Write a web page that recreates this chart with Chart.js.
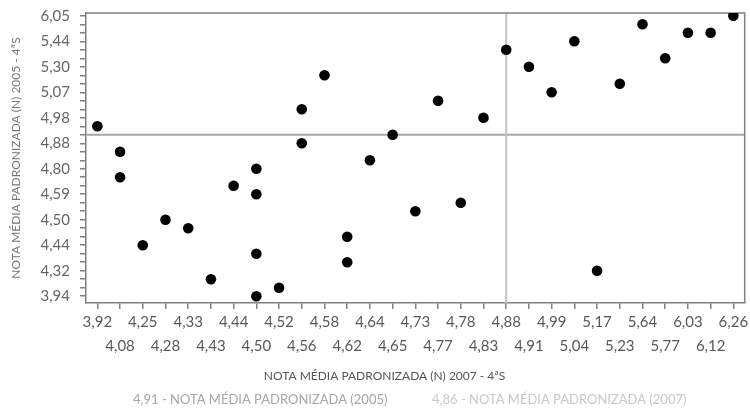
<!DOCTYPE html>
<html><head><meta charset="utf-8">
<script src="https://cdn.jsdelivr.net/npm/chart.js@4/dist/chart.umd.min.js"></script>
<style>html,body{margin:0;padding:0;background:#fff;}#wrap{width:750px;height:409px;position:relative;}</style>
</head><body><div id="wrap"><canvas id="c"></canvas></div>
<script>
// ---- data ----
const xCategories = [3.92, 4.08, 4.25, 4.28, 4.33, 4.43, 4.44, 4.50, 4.52, 4.56, 4.58, 4.62, 4.64, 4.65, 4.73,
  4.77, 4.78, 4.83, 4.88, 4.91, 4.99, 5.04, 5.17, 5.23, 5.64, 5.77, 6.03, 6.12, 6.26];
const yCategories = [3.94, 4.05, 4.20, 4.32, 4.36, 4.40, 4.44, 4.46, 4.48, 4.50, 4.54, 4.57, 4.59, 4.66, 4.74,
  4.80, 4.83, 4.86, 4.88, 4.91, 4.95, 4.98, 5.01, 5.04, 5.07, 5.15, 5.22, 5.30, 5.34, 5.39, 5.44, 5.52, 5.62, 6.05];
const yLabelEvery = 3;
const nota2007 = [3.92, 4.08, 4.08, 4.25, 4.28, 4.33, 4.43, 4.44, 4.50, 4.50, 4.50, 4.50, 4.52, 4.56, 4.56, 4.58,
  4.62, 4.62, 4.64, 4.65, 4.73, 4.77, 4.78, 4.83, 4.88, 4.91, 4.99, 5.04, 5.17, 5.23, 5.64, 5.77, 6.03, 6.12, 6.26];
const nota2005 = [4.95, 4.86, 4.74, 4.44, 4.50, 4.48, 4.20, 4.66, 4.80, 4.59, 4.40, 3.94, 4.05, 4.88, 5.01, 5.22,
  4.46, 4.36, 4.83, 4.91, 4.54, 5.04, 4.57, 4.98, 5.39, 5.30, 5.07, 5.44, 4.32, 5.15, 5.62, 5.34, 5.52, 5.52, 6.05];
const media2005 = 4.91;
const media2007 = 4.86;
const xTitle = 'NOTA MÉDIA PADRONIZADA (N) 2007 - 4ªS';
const yTitle = 'NOTA MÉDIA PADRONIZADA (N) 2005 - 4ªS';
const legendNames = ['NOTA MÉDIA PADRONIZADA (2005)', 'NOTA MÉDIA PADRONIZADA (2007)'];

// ---- helpers ----
const fmt = v => v.toFixed(2).replace('.', ',');
const nearestIndex = (arr, v) => arr.reduce((b, a, i) => Math.abs(a - v) < Math.abs(arr[b] - v) ? i : b, 0);
const FONT = 'Lato, "Open Sans", sans-serif';
const AXIS = '#808080';

const refLines = {
  id: 'refLines',
  beforeDatasetsDraw(chart) {
    const {ctx, chartArea: a, scales: {x, y}} = chart;
    ctx.save();
    const yp = y.getPixelForValue(nearestIndex(yCategories, media2005));
    ctx.strokeStyle = '#a8a8a8'; ctx.lineWidth = 2;
    ctx.beginPath(); ctx.moveTo(a.left, yp); ctx.lineTo(a.right, yp); ctx.stroke();
    const xp = x.getPixelForValue(nearestIndex(xCategories, media2007));
    ctx.strokeStyle = '#c2c2ca'; ctx.lineWidth = 2;
    ctx.beginPath(); ctx.moveTo(xp, a.top); ctx.lineTo(xp, a.bottom); ctx.stroke();
    // top/right frame
    ctx.strokeStyle = AXIS; ctx.lineWidth = 1.5;
    ctx.beginPath(); ctx.moveTo(a.left, a.top); ctx.lineTo(a.right, a.top); ctx.lineTo(a.right, a.bottom); ctx.stroke();
    ctx.restore();
  }
};

const bottomTexts = {
  id: 'bottomTexts',
  afterDraw(chart) {
    const {ctx} = chart;
    ctx.save();
    ctx.textBaseline = 'middle';
    ctx.font = '12px ' + FONT;
    ctx.fillStyle = '#555';
    ctx.textAlign = 'center';
    ctx.fillText(xTitle, 384.5, 376);
    ctx.font = '13px ' + FONT;
    ctx.textAlign = 'left';
    ctx.fillStyle = '#a6a6a6';
    ctx.fillText(fmt(media2005) + ' - ' + legendNames[0], 133, 399.5);
    ctx.fillStyle = '#c8c8c8';
    ctx.fillText(fmt(media2007) + ' - ' + legendNames[1], 432, 399.5);
    ctx.restore();
  }
};

new Chart(document.getElementById('c'), {
  type: 'scatter',
  data: {
    datasets: [{
      data: nota2007.map((v, i) => ({x: fmt(v), y: yCategories.indexOf(nota2005[i])})),
      backgroundColor: '#000', borderColor: '#000',
      pointRadius: 5.3, pointBorderWidth: 0, pointHoverRadius: 5.3
    }]
  },
  options: {
    responsive: true, maintainAspectRatio: false, animation: false,
    layout: {padding: {top: 13, right: 4, left: 0, bottom: 0}},
    plugins: {legend: {display: false}, tooltip: {enabled: false}},
    scales: {
      x: {
        type: 'category', labels: xCategories.map(fmt), offset: true,
        grid: {drawOnChartArea: false, tickLength: 6, color: AXIS, lineWidth: 1.5},
        border: {color: AXIS, width: 1.5},
        ticks: {
          autoSkip: false, maxRotation: 0, minRotation: 0, padding: 1, color: '#595959',
          font: {family: FONT, size: 15, lineHeight: 1.6},
          callback(v, i) { const s = this.getLabelForValue(v); return i % 2 ? ['', s] : s; }
        },
        afterFit(s) { s.height = 106; s.paddingLeft = 0; s.paddingRight = 0; }
      },
      y: {
        type: 'linear', min: -0.8, max: 33.33,
        grid: {drawOnChartArea: false, tickLength: 6, color: AXIS, lineWidth: 1.5},
        border: {color: AXIS, width: 1.5},
        ticks: {
          stepSize: 1, includeBounds: false, autoSkip: false, padding: 10, color: '#666',
          font: {family: FONT, size: 15},
          callback(v) { return Number.isInteger(v) && v % yLabelEvery === 0 && yCategories[v] !== undefined ? fmt(yCategories[v]) : ''; }
        },
        title: {display: true, text: yTitle, color: '#777', font: {family: FONT, size: 12}, padding: {top: 9, bottom: 0}},
        afterFit(s) { s.width = 86; s.paddingTop = 0; s.paddingBottom = 0; }
      }
    }
  },
  plugins: [refLines, bottomTexts]
});
</script>
</body></html>
